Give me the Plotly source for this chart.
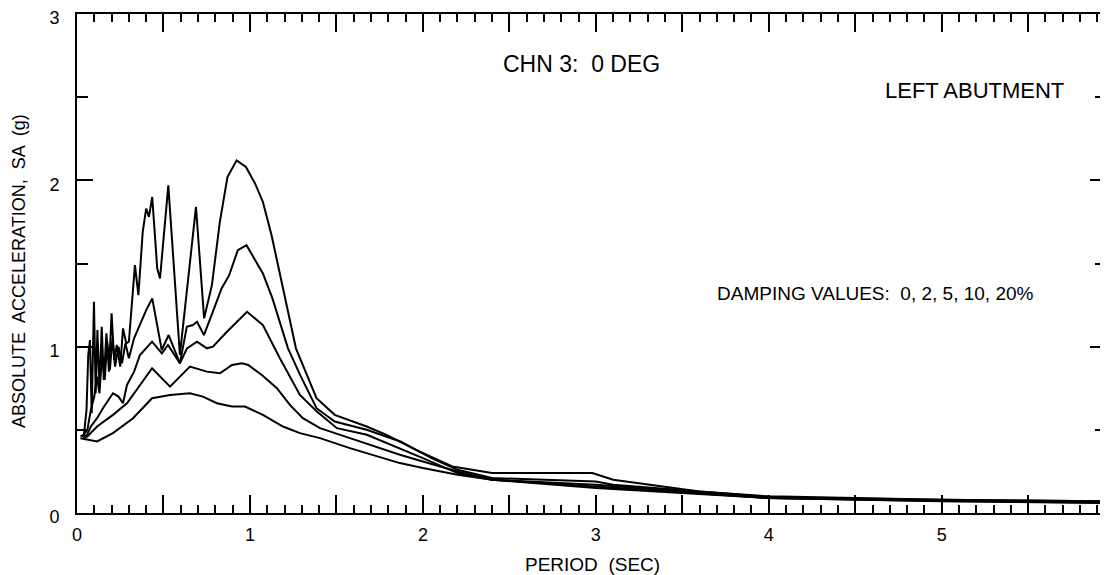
import plotly.graph_objects as go

# ---- data (period in sec, spectral acceleration in g) ----
T0 = [0.02, 0.04, 0.055, 0.065, 0.075, 0.085, 0.098, 0.108, 0.118, 0.13, 0.143, 0.155, 0.17, 0.185,
      0.20, 0.215, 0.23, 0.25, 0.266, 0.285, 0.30, 0.335, 0.355, 0.38, 0.40, 0.416, 0.435, 0.464,
      0.48, 0.528, 0.595, 0.688, 0.735, 0.78, 0.826, 0.87, 0.923, 0.977, 1.03, 1.075, 1.125, 1.19,
      1.266, 1.385, 1.49, 1.675, 1.79, 1.96, 2.17, 2.4, 2.98, 3.1, 3.6, 4.0, 4.5, 5.0, 5.5, 6.0]
SA0 = [0.46, 0.47, 0.62, 0.95, 1.04, 0.60, 1.27, 0.72, 1.10, 0.75, 1.12, 0.80, 1.08, 0.85,
       1.20, 0.92, 1.01, 0.88, 1.11, 1.02, 1.03, 1.49, 1.31, 1.69, 1.83, 1.78, 1.90, 1.47,
       1.41, 1.97, 0.95, 1.84, 1.17, 1.37, 1.75, 2.02, 2.12, 2.08, 1.98, 1.87, 1.67, 1.35,
       0.99, 0.69, 0.59, 0.52, 0.47, 0.38, 0.28, 0.24, 0.24, 0.20, 0.13, 0.10, 0.09, 0.08, 0.075, 0.07]

T2 = [0.03, 0.06, 0.08, 0.10, 0.115, 0.13, 0.145, 0.16, 0.175, 0.19, 0.205, 0.22, 0.24, 0.26,
      0.28, 0.30, 0.33, 0.36, 0.40, 0.435, 0.49, 0.53, 0.595, 0.635, 0.67, 0.694, 0.734, 0.80,
      0.836, 0.88, 0.93, 0.98, 1.075, 1.13, 1.22, 1.29, 1.385, 1.49, 1.675, 1.87, 2.05, 2.2,
      2.4, 3.0, 3.1, 3.6, 4.0, 5.0, 6.0]
SA2 = [0.46, 0.50, 0.62, 0.70, 0.82, 0.72, 0.95, 0.80, 1.03, 0.86, 1.05, 0.88, 1.00, 0.90,
       1.02, 0.93, 1.05, 1.12, 1.22, 1.29, 0.98, 1.07, 0.90, 1.12, 1.13, 1.15, 1.07, 1.25,
       1.35, 1.43, 1.58, 1.61, 1.44, 1.29, 0.99, 0.83, 0.63, 0.55, 0.50, 0.43, 0.33, 0.26,
       0.21, 0.19, 0.17, 0.13, 0.095, 0.08, 0.07]

T5 = [0.04, 0.058, 0.08, 0.10, 0.116, 0.15, 0.18, 0.208, 0.24, 0.266, 0.289, 0.33, 0.364,
      0.434, 0.491, 0.526, 0.595, 0.636, 0.694, 0.751, 0.786, 0.867, 0.983, 1.075, 1.173,
      1.289, 1.387, 1.503, 1.676, 1.867, 2.0, 2.2, 2.4, 3.0, 3.6, 4.0, 5.0, 6.0]
SA5 = [0.46, 0.47, 0.52, 0.55, 0.57, 0.63, 0.68, 0.72, 0.70, 0.66, 0.77, 0.85, 0.95,
       1.03, 0.96, 1.01, 0.90, 0.99, 1.03, 0.99, 1.00, 1.09, 1.21, 1.13, 0.93,
       0.71, 0.61, 0.51, 0.47, 0.39, 0.33, 0.24, 0.20, 0.17, 0.12, 0.09, 0.075, 0.065]

T10 = [0.035, 0.06, 0.116, 0.208, 0.289, 0.364, 0.434, 0.538, 0.653, 0.751, 0.827, 0.896,
       0.954, 0.99, 1.069, 1.156, 1.231, 1.306, 1.405, 1.578, 1.867, 2.0, 2.2, 2.4, 3.0,
       3.6, 4.0, 5.0, 6.0]
SA10 = [0.45, 0.46, 0.52, 0.59, 0.66, 0.77, 0.87, 0.76, 0.88, 0.85, 0.84, 0.89,
        0.90, 0.89, 0.83, 0.75, 0.65, 0.57, 0.51, 0.45, 0.35, 0.31, 0.25, 0.20, 0.16,
        0.12, 0.09, 0.072, 0.062]

T20 = [0.02, 0.06, 0.116, 0.208, 0.324, 0.434, 0.538, 0.653, 0.728, 0.809, 0.896, 0.971,
       1.075, 1.191, 1.289, 1.405, 1.578, 1.867, 2.0, 2.2, 2.4, 3.0, 3.6, 4.0, 5.0, 6.0]
SA20 = [0.45, 0.44, 0.43, 0.48, 0.57, 0.69, 0.71, 0.72, 0.70, 0.66, 0.64, 0.64,
        0.59, 0.52, 0.48, 0.45, 0.39, 0.30, 0.27, 0.23, 0.20, 0.15, 0.115, 0.09, 0.07, 0.06]

SERIES = [("0%", T0, SA0), ("2%", T2, SA2), ("5%", T5, SA5), ("10%", T10, SA10), ("20%", T20, SA20)]

X_TICKS = [0, 0.5, 1, 1.5, 2, 2.5, 3, 3.5, 4, 4.5, 5, 5.5]
X_LABELS = ["0", "", "1", "", "2", "", "3", "", "4", "", "5", ""]
Y_TICKS = [0, 1, 2, 3]
Y_LABELS = ["0", "1", "2", "3"]

FONT = "Liberation Sans"

fig = go.Figure()
for name, t, sa in SERIES:
    fig.add_trace(go.Scatter(x=t, y=sa, mode="lines", name=name,
                             line=dict(color="black", width=2), showlegend=False))

axis_common = dict(showline=True, linecolor="black", linewidth=2, mirror="ticks",
                   showgrid=False, zeroline=False, ticks="inside", tickcolor="black",
                   tickwidth=2, ticklabeloverflow="allow",
                   tickfont=dict(family=FONT, size=18, color="black"))

# the page body adds an 8px offset, so the figure is 8px smaller and margins shifted
fig.update_layout(
    width=1100, height=567,
    margin=dict(l=69, r=2, t=6, b=62, autoexpand=False),
    paper_bgcolor="white", plot_bgcolor="white",
    xaxis=dict(range=[0, 5.95], tickmode="array", tickvals=X_TICKS, ticktext=X_LABELS,
               ticklen=18, ticklabelstandoff=4,
               minor=dict(dtick=0.1, tick0=0, ticks="inside", ticklen=8, tickwidth=1.5,
                          tickcolor="black", showgrid=False),
               **axis_common),
    yaxis=dict(range=[0, 3], tickmode="array", tickvals=Y_TICKS, ticktext=Y_LABELS,
               ticklen=16, ticklabelstandoff=12, ticklabelshift=4,
               minor=dict(dtick=0.5, tick0=0, ticks="inside", ticklen=11, tickwidth=1.5,
                          tickcolor="black", showgrid=False),
               **axis_common),
    annotations=[
        dict(text="CHN 3:  0 DEG", x=2.92, y=2.70, xref="x", yref="y", showarrow=False,
             font=dict(family=FONT, size=23, color="black")),
        dict(text="LEFT ABUTMENT", x=5.19, y=2.54, xref="x", yref="y", showarrow=False,
             font=dict(family=FONT, size=22, color="black")),
        dict(text="DAMPING VALUES:  0, 2, 5, 10, 20%", x=4.62, y=1.32, xref="x", yref="y",
             showarrow=False, font=dict(family=FONT, size=19, color="black")),
        dict(text="PERIOD  (SEC)", x=0.501, y=0, xref="paper", yref="paper", yshift=-51,
             xanchor="center", yanchor="middle", showarrow=False,
             font=dict(family=FONT, size=19, color="black")),
        dict(text="ABSOLUTE  ACCELERATION,  SA  (g)", x=0, y=0.485, xref="paper", yref="paper",
             xshift=-58, xanchor="center", yanchor="middle", textangle=-90, showarrow=False,
             font=dict(family=FONT, size=18, color="black")),
    ],
)

fig.write_html("out.html")
